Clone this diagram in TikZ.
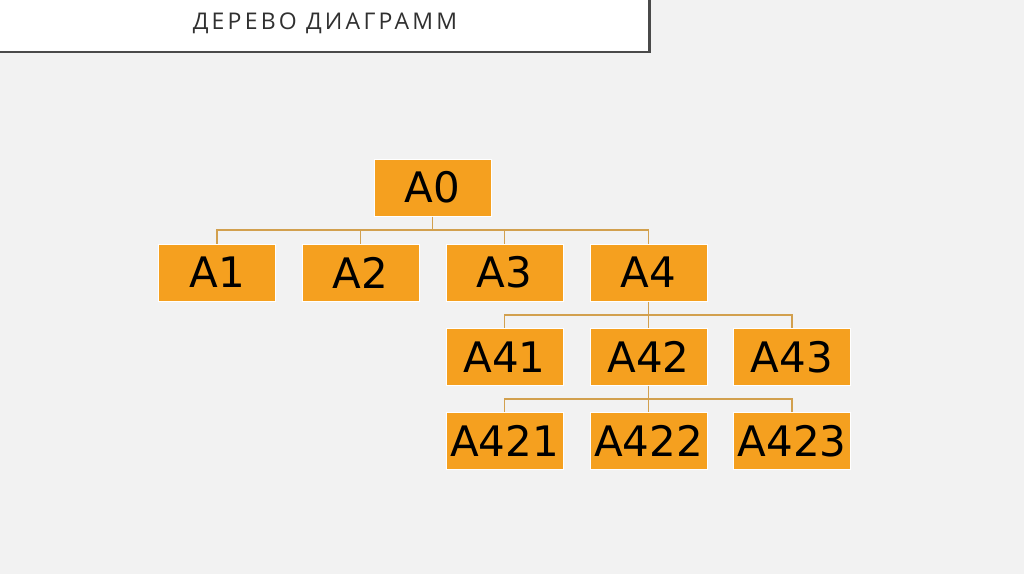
\documentclass[tikz,border=0pt]{standalone}
\usepackage{fontspec}
\setmainfont{DejaVu Sans}
\newfontfamily\titlefont[LetterSpace=14]{Open Sans}
\definecolor{bg}{HTML}{F2F2F2}
\definecolor{boxfill}{HTML}{F5A01F}
\definecolor{linecol}{HTML}{D2A04E}
\definecolor{shadowcol}{HTML}{4A4A4A}
\definecolor{titlecol}{HTML}{303030}
\tikzset{
  box/.style={fill=boxfill, draw=white, line width=1pt, minimum width=117pt, minimum height=57pt, inner sep=0pt, font=\fontsize{42}{48}\selectfont, text=black, anchor=center},
  conn/.style={draw=linecol, line width=1.5pt}
}
\begin{document}
\begin{tikzpicture}[x=1pt,y=-1pt]
\fill[bg] (0,0) rectangle (1024,574);
\useasboundingbox (0,0) rectangle (1024,574);
% header
\fill[shadowcol] (0,0) rectangle (651,53);
\fill[white] (0,0) rectangle (648,50.5);
\node[font=\titlefont\fontsize{23}{26}\selectfont, text=titlecol, anchor=center] (title) at (325,23.5) {ДЕРЕВО ДИАГРАММ};
% boxes
\node[box] (a0) at (432.5,187.5) {A0};
\node[box] (a1) at (217,272.5) {A1};
\node[box] (a2) at (360.5,272.5) {A2};
\node[box] (a3) at (504.5,272.5) {A3};
\node[box] (a4) at (648.5,272.5) {A4};
\node[box] (a41) at (504.5,357) {A41};
\node[box] (a42) at (648.5,357) {A42};
\node[box] (a43) at (792,357) {A43};
\node[box] (a421) at (504.5,441) {A421};
\node[box] (a422) at (648.5,441) {A422};
\node[box] (a423) at (792,441) {A423};
% connectors
\coordinate (h1) at (432.5,230);
\draw[conn] (a0.south) -- (h1);
\draw[conn] (a1.north) |- (h1);
\draw[conn] (a4.north) |- (h1);
\draw[conn] (a2.north) -- (a2.north |- h1);
\draw[conn] (a3.north) -- (a3.north |- h1);
\coordinate (h2) at (648.5,315);
\draw[conn] (a4.south) -- (a42.north);
\draw[conn] (a41.north) |- (h2);
\draw[conn] (a43.north) |- (h2);
\coordinate (h3) at (648.5,399);
\draw[conn] (a42.south) -- (a422.north);
\draw[conn] (a421.north) |- (h3);
\draw[conn] (a423.north) |- (h3);
\end{tikzpicture}
\end{document}
